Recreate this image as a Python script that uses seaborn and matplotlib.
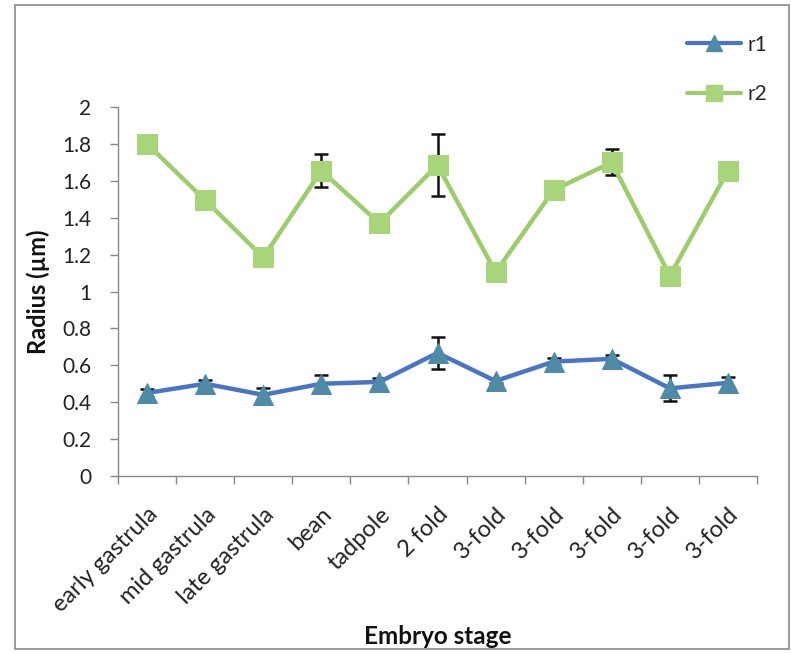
import numpy as np
import pandas as pd
import matplotlib
matplotlib.use("Agg")
import matplotlib.pyplot as plt
import seaborn as sns
from matplotlib.lines import Line2D
from matplotlib.patches import Rectangle

# Embryo stages along the x axis
stages = ["early gastrula", "mid gastrula", "late gastrula", "bean", "tadpole",
          "2 fold", "3-fold", "3-fold", "3-fold", "3-fold", "3-fold"]

# Mean radii (µm) and their error values
r1 = [0.45, 0.50, 0.44, 0.50, 0.51, 0.667, 0.515, 0.62, 0.635, 0.475, 0.505]
r1_err = [0.02, 0.02, 0.035, 0.05, 0.02, 0.085, 0.01, 0.02, 0.02, 0.07, 0.03]
r2 = [1.80, 1.495, 1.185, 1.655, 1.37, 1.685, 1.105, 1.55, 1.70, 1.085, 1.655]
r2_err = [0.0, 0.0, 0.0, 0.09, 0.0, 0.17, 0.0, 0.0, 0.07, 0.0, 0.0]

yticks = [0, 0.2, 0.4, 0.6, 0.8, 1, 1.2, 1.4, 1.6, 1.8, 2]
ytick_labels = ["0", "0.2", "0.4", "0.6", "0.8", "1", "1.2", "1.4", "1.6", "1.8", "2"]

sns.set_theme(style="white")
plt.rcParams["font.family"] = ["Lato", "DejaVu Sans"]

pos = np.arange(len(stages))
df = pd.DataFrame({
    "pos": np.concatenate([pos, pos]),
    "radius": r1 + r2,
    "series": ["r1"] * len(stages) + ["r2"] * len(stages),
})

fig = plt.figure(figsize=(7.91, 6.53), dpi=100)
ax = fig.add_axes([118 / 791, 1 - 476 / 653, (757 - 118) / 791, (476 - 107) / 653])

line_col = {"r1": "#4a74c4", "r2": "#9ccc6c"}
mark_col = {"r1": "#4f8aa6", "r2": "#a8d47a"}
markers = {"r1": "^", "r2": "s"}
msize = {"r1": 14.5, "r2": 14}

# error bars sit underneath the markers
ax.errorbar(pos, r1, yerr=r1_err, fmt="none", ecolor="#111111", elinewidth=1.8,
            capsize=5, capthick=1.8, zorder=2)
ax.errorbar(pos, r2, yerr=r2_err, fmt="none", ecolor="#111111", elinewidth=1.8,
            capsize=5, capthick=1.8, zorder=2)

for name in ["r1", "r2"]:
    sub = df[df["series"] == name]
    sns.lineplot(data=sub, x="pos", y="radius", ax=ax, color=line_col[name],
                 linewidth=3.2, marker=markers[name], markersize=msize[name],
                 markerfacecolor=mark_col[name], markeredgecolor=mark_col[name],
                 legend=False, zorder=3)

ax.set_xlim(-0.5, len(stages) - 0.5)
ax.set_ylim(0, 2)
ax.set_yticks(yticks)
ax.set_yticklabels(ytick_labels, fontsize=15, color="#222222")

# category boundary ticks with centred labels
ax.set_xticks(np.arange(-0.5, len(stages), 1.0), minor=True)
ax.set_xticks(pos)
ax.set_xticklabels(stages, fontsize=17, color="#222222", rotation=45,
                   ha="right", va="top", rotation_mode="anchor")
ax.tick_params(axis="x", which="major", length=0, pad=20)
ax.tick_params(axis="x", which="minor", length=6, width=1, color="#888888",
               direction="out", bottom=True)
ax.tick_params(axis="y", length=6, width=1, color="#888888", direction="out",
               left=True, pad=13)
for lbl in ax.get_xticklabels():
    lbl.set_x(lbl.get_position()[0] - 0.05)

for s in ["top", "right"]:
    ax.spines[s].set_visible(False)
for s in ["left", "bottom"]:
    ax.spines[s].set_color("#888888")
    ax.spines[s].set_linewidth(1)

ax.set_xlabel("Embryo stage", fontsize=17.5, fontweight="bold", color="#111111")
ax.set_ylabel("Radius (µm)", fontsize=17, fontweight="bold", color="#111111")
ax.xaxis.set_label_coords(0.5, -(636 - 476) / 369)
ax.yaxis.set_label_coords((38 - 118) / 639, 0.5)
ax.xaxis.label.set_va("center")
ax.yaxis.label.set_va("center")

handles = [Line2D([], [], color=line_col[n], linewidth=3.0, marker=markers[n],
                  markersize=12, markerfacecolor=mark_col[n],
                  markeredgecolor=mark_col[n]) for n in ["r1", "r2"]]
fig.legend(handles, ["r1", "r2"], loc="upper left",
           bbox_to_anchor=(668 / 791, 1 - 16 / 653), frameon=False,
           fontsize=15, labelspacing=1.4, handlelength=2.6, handletextpad=0.3)

# thin outer border
fig.patches.append(Rectangle((15 / 791, 4 / 653), 774 / 791, 644 / 653,
                             transform=fig.transFigure, fill=False,
                             edgecolor="#8a8a8a", linewidth=1.2))

fig.savefig("out.png", dpi=100)
